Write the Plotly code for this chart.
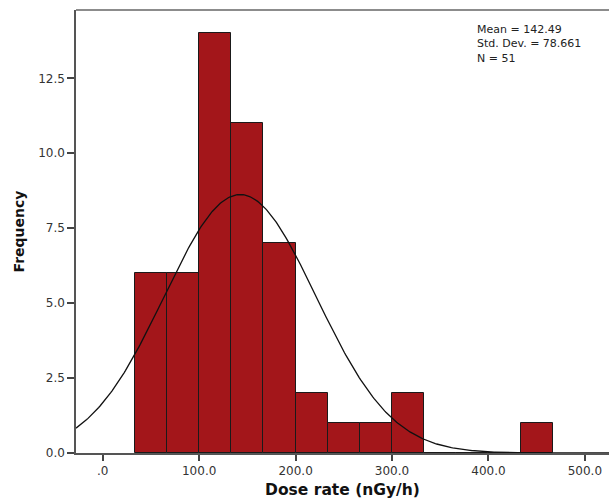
import numpy as np
import plotly.graph_objects as go

# Histogram data (Dose rate, nGy/h)
bin_width = 100.0 / 3.0
bin_starts = [33.333, 66.667, 100.0, 133.333, 166.667, 200.0, 233.333, 266.667, 300.0,
              333.333, 366.667, 400.0, 433.333]
counts = [6, 6, 14, 11, 7, 2, 1, 1, 2, 0, 0, 0, 1]

mean = 142.49
std = 78.661
n = 51

x_tickvals = [0, 100, 200, 300, 400, 500]
x_ticktext = [".0", "100.0", "200.0", "300.0", "400.0", "500.0"]
y_tickvals = [0, 2.5, 5, 7.5, 10, 12.5]
y_ticktext = ["0.0", "2.5", "5.0", "7.5", "10.0", "12.5"]
stats_lines = ["Mean = 142.49", "Std. Dev. = 78.661", "N = 51"]

x_range = [-27.7, 525]
y_range = [0, 14.78]

centers = [s + bin_width / 2 for s in bin_starts]

xc = np.linspace(x_range[0], x_range[1], 400)
yc = n * bin_width / (std * np.sqrt(2 * np.pi)) * np.exp(-0.5 * ((xc - mean) / std) ** 2)

FONT = "DejaVu Sans, Verdana, sans-serif"

fig = go.Figure()
fig.add_trace(go.Bar(
    x=centers, y=counts, width=bin_width,
    marker=dict(color="#A3161A", line=dict(color="#1a1a1a", width=1)),
    showlegend=False, hoverinfo="skip",
))
fig.add_trace(go.Scatter(
    x=xc, y=yc, mode="lines", line=dict(color="#111111", width=1.3),
    showlegend=False, hoverinfo="skip",
))

plot_h = 443.0

fig.update_layout(
    width=609, height=504,
    margin=dict(l=76, r=0, t=10, b=51),
    paper_bgcolor="white", plot_bgcolor="white",
    font=dict(family=FONT, size=12, color="#333333"),
    bargap=0,
    shapes=[dict(type="line", xref="paper", yref="paper", x0=0, x1=1, y0=1, y1=1,
                 line=dict(color="#8c8c8c", width=2))],
    annotations=[dict(
        xref="paper", yref="paper", x=(475 - 76) / 533.0, y=(453 - 21) / plot_h,
        xanchor="left", yanchor="top", align="left", showarrow=False,
        text="<br>".join(stats_lines),
        font=dict(size=11, color="#222222", family=FONT),
    )],
)
fig.update_xaxes(
    range=x_range, tickvals=x_tickvals, ticktext=x_ticktext,
    showgrid=False, zeroline=False, showline=True, linecolor="#555555", linewidth=1.5,
    ticks="outside", ticklen=6, tickcolor="#444444", tickwidth=1.5,
    tickfont=dict(size=12, color="#333333"),
    title=dict(text="<b>Dose rate (nGy/h)</b>", font=dict(size=15.5, color="#111111"), standoff=7),
)
fig.update_yaxes(
    range=y_range, tickvals=y_tickvals, ticktext=y_ticktext,
    showgrid=False, zeroline=False, showline=True, linecolor="#555555", linewidth=1.5,
    ticks="outside", ticklen=7, tickcolor="#444444", tickwidth=1.5,
    tickfont=dict(size=12, color="#333333"),
    title=dict(text="<b>Frequency</b>", font=dict(size=14, color="#111111"), standoff=10),
)

fig.write_html(
    "out.html",
    config={"displayModeBar": False},
    post_script="document.body.style.margin='0';document.body.style.overflow='hidden';",
)
